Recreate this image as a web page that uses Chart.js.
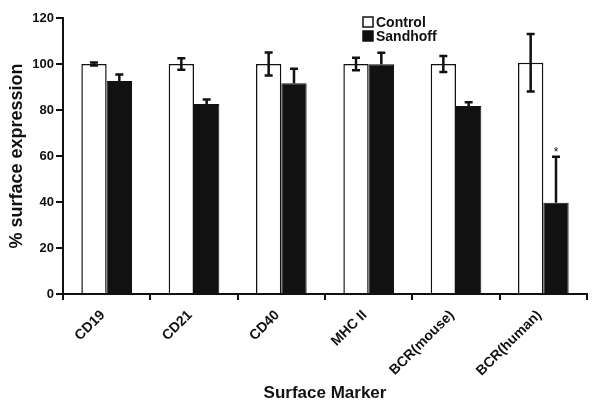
<!DOCTYPE html>
<html>
<head>
<meta charset="utf-8">
<script src="https://cdn.jsdelivr.net/npm/chart.js@4.4.1/dist/chart.umd.min.js"></script>
<style>
  html, body { margin: 0; padding: 0; background: #fff; }
  #wrap { width: 600px; height: 405px; position: relative; }
</style>
</head>
<body>
<div id="wrap"><canvas id="markerChart" width="600" height="405"></canvas></div>
<script>
var markers = ['CD19', 'CD21', 'CD40', 'MHC II', 'BCR(mouse)', 'BCR(human)'];
var controlValues = [100, 100, 100, 100, 100, 100.5];
var controlErrors = [0.7, 2.5, 5, 2.7, 3.5, 12.5];
var sandhoffValues = [92.6, 82.6, 91.6, 99.9, 81.7, 39.7];
var sandhoffErrors = [2.8, 2, 6.3, 5, 1.7, 20];
var significant = [false, false, false, false, false, true];
var yTicks = [0, 20, 40, 60, 80, 100, 120];

var FONT = "'Liberation Sans', Arial, Helvetica, sans-serif";

// error bars + asterisks, drawn from the data through the scales
var errorBarPlugin = {
  id: 'errorBars',
  afterDatasetsDraw: function (chart) {
    var ctx = chart.ctx;
    var yScale = chart.scales.y;
    var errs = [controlErrors, sandhoffErrors];
    ctx.save();
    ctx.strokeStyle = '#111';
    ctx.lineWidth = 2.5;
    chart.data.datasets.forEach(function (ds, di) {
      var meta = chart.getDatasetMeta(di);
      meta.data.forEach(function (bar, i) {
        var v = ds.data[i];
        var e = errs[di][i];
        var yTop = yScale.getPixelForValue(v + e);
        var yBot = di === 0 ? yScale.getPixelForValue(v - e) : bar.y;
        var x = bar.x;
        ctx.beginPath();
        ctx.moveTo(x, yTop);
        ctx.lineTo(x, yBot);
        ctx.moveTo(x - 4, yTop);
        ctx.lineTo(x + 4, yTop);
        if (di === 0) {
          ctx.moveTo(x - 4, yBot);
          ctx.lineTo(x + 4, yBot);
        }
        ctx.stroke();
        if (di === 1 && significant[i]) {
          ctx.fillStyle = '#111';
          ctx.font = '12px ' + FONT;
          ctx.textAlign = 'center';
          ctx.textBaseline = 'bottom';
          ctx.fillText('*', x, yTop + 2);
        }
      });
    });
    ctx.restore();
  }
};

// small boxed legend inside the plot
var boxLegendPlugin = {
  id: 'boxLegend',
  afterDraw: function (chart) {
    var ctx = chart.ctx;
    var items = [
      { label: 'Control', fill: '#fff' },
      { label: 'Sandhoff', fill: '#111' }
    ];
    ctx.save();
    ctx.font = 'bold 14px ' + FONT;
    ctx.textBaseline = 'middle';
    ctx.textAlign = 'left';
    items.forEach(function (it, k) {
      var cy = 22 + k * 14;
      ctx.fillStyle = it.fill;
      ctx.fillRect(363, cy - 5, 10, 10);
      ctx.strokeStyle = '#111';
      ctx.lineWidth = 1.5;
      ctx.strokeRect(363, cy - 5, 10, 10);
      ctx.fillStyle = '#111';
      ctx.fillText(it.label, 376, cy + 1);
    });
    ctx.restore();
  }
};

var ctx = document.getElementById('markerChart').getContext('2d');
var chart = new Chart(ctx, {
  type: 'bar',
  data: {
    labels: markers,
    datasets: [{
      label: 'Control',
      data: controlValues,
      backgroundColor: '#fff',
      borderColor: '#111',
      borderWidth: 1.5,
      categoryPercentage: 0.58,
      barPercentage: 1
    }, {
      label: 'Sandhoff',
      data: sandhoffValues,
      backgroundColor: '#111',
      borderColor: '#111',
      borderWidth: 1,
      categoryPercentage: 0.58,
      barPercentage: 1
    }]
  },
  options: {
    responsive: false,
    animation: false,
    devicePixelRatio: 1,
    layout: { padding: { top: 18, right: 13, left: 0, bottom: 0 } },
    plugins: {
      legend: { display: false },
      tooltip: { enabled: false }
    },
    scales: {
      x: {
        afterFit: function (s) { s.height = 111; },
        grid: { display: true, drawOnChartArea: false, drawTicks: true, tickLength: 6, color: '#111', lineWidth: 2, offset: true },
        border: { display: true, color: '#111', width: 2 },
        ticks: {
          color: '#111',
          font: { family: FONT, size: 14, weight: 'bold' },
          maxRotation: 45,
          minRotation: 45,
          autoSkip: false,
          padding: 7,
          labelOffset: -4
        },
        title: {
          display: true,
          text: 'Surface Marker',
          color: '#111',
          font: { family: FONT, size: 17, weight: 'bold' },
          padding: { top: 0, bottom: 1 }
        }
      },
      y: {
        min: 0,
        max: 120,
        afterFit: function (s) { s.width = 63; },
        afterBuildTicks: function (s) {
          s.ticks = yTicks.map(function (v) { return { value: v }; });
        },
        grid: { display: true, drawOnChartArea: false, drawTicks: true, tickLength: 7, color: '#111', lineWidth: 2 },
        border: { display: true, color: '#111', width: 2 },
        ticks: {
          color: '#111',
          font: { family: FONT, size: 13, weight: 'bold' },
          padding: 2
        },
        title: {
          display: true,
          text: '% surface expression',
          color: '#111',
          font: { family: FONT, size: 18, weight: 'bold' },
          padding: { top: 6, bottom: 0 }
        }
      }
    }
  },
  plugins: [errorBarPlugin, boxLegendPlugin]
});
</script>
</body>
</html>
